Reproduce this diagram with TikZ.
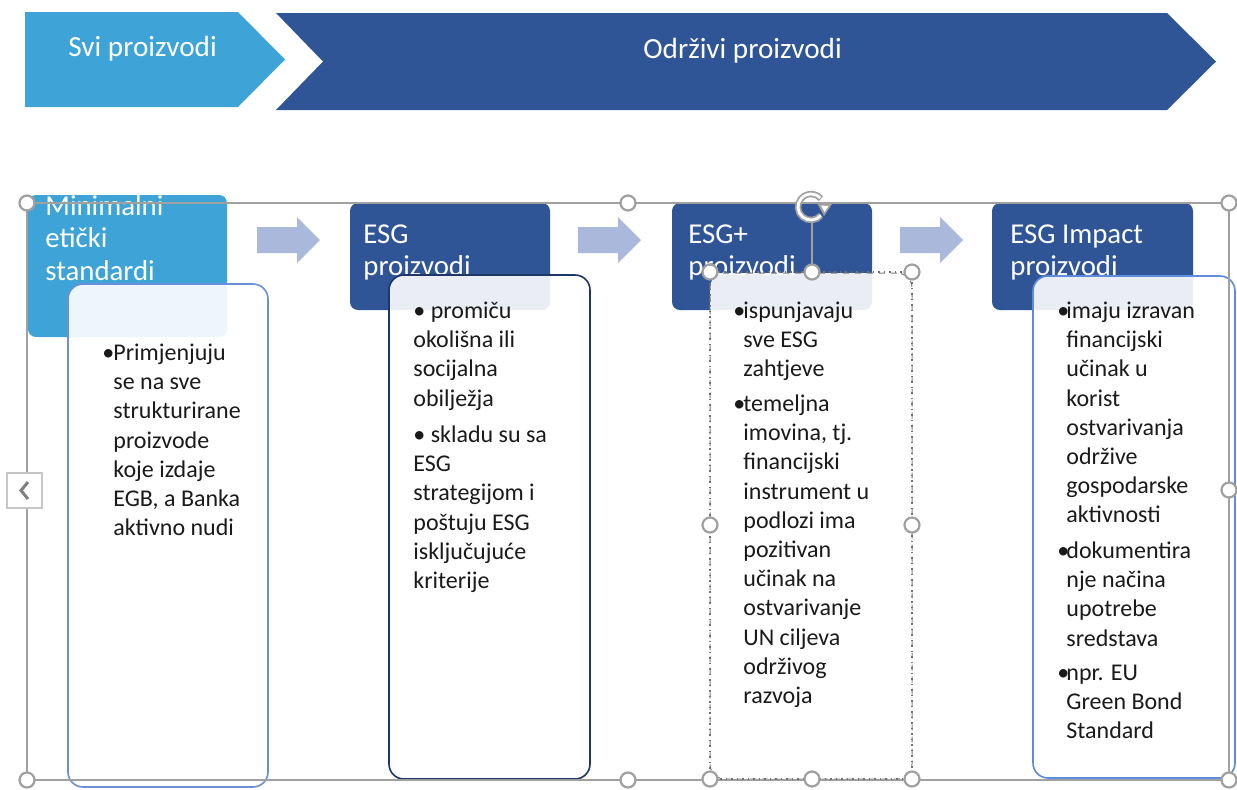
\documentclass[tikz,border=0pt]{standalone}
\usepackage{fontspec}
\setmainfont{Carlito}
\usetikzlibrary{fit,arrows.meta}
\definecolor{lblue}{HTML}{3EA4D7}
\definecolor{dblue}{HTML}{2F5597}
\definecolor{arw}{HTML}{AAB8DC}
\definecolor{bone}{HTML}{6A8FD8}
\definecolor{btwo}{HTML}{1F3766}
\definecolor{bfour}{HTML}{5E8BDB}
\definecolor{selg}{HTML}{A0A0A0}
\definecolor{txt}{HTML}{1A1A1A}
\begin{document}
\begin{tikzpicture}[x=0.5pt,y=-0.5pt,
 hbox/.style={inner sep=0pt, rounded corners=4pt, draw=none},
 bbox/.style={inner sep=0pt, rounded corners=7.5pt, fill=white, fill opacity=0.9, line width=0.8pt},
 toptxt/.style={text=white, font=\fontsize{14.6}{17}\selectfont, anchor=base west, inner sep=0pt},
 htxt/.style={text=white, font=\fontsize{14.4}{16.2}\selectfont, align=left, anchor=north west, inner sep=0pt},
 btxt/.style={text=txt, font=\fontsize{12}{14.6}\selectfont, align=left, anchor=north west, inner sep=0pt},
 handle/.style={circle, draw=selg, fill=white, line width=1.1pt, minimum size=7.5pt, inner sep=0pt},
 barrow/.style={fill=arw, draw=none}
]
\useasboundingbox (0,0) rectangle (1237,789);

% top chevrons
\fill[lblue] (25,12) -- (238,12) -- (285,59.5) -- (238,107) -- (25,107) -- cycle;
\fill[dblue] (276,13) -- (1167,13) -- (1216,61.5) -- (1167,110) -- (276,110) -- (323,61.5) -- cycle;
\node[toptxt] (svi) at (68,56) {Svi proizvodi};
\node[toptxt] (odr) at (643,58) {Održivi proizvodi};

% header boxes
\node[hbox, fill=lblue, fit={(28,195) (227,337)}] (h1) {};
\node[hbox, fill=dblue, fit={(350,203) (550,310)}] (h2) {};
\node[hbox, fill=dblue, fit={(672,203) (872,310)}] (h3) {};
\node[hbox, fill=dblue, fit={(992,203) (1193,310)}] (h4) {};

\node[htxt] (h1t) at (45,192.3) {\strut Minimalni\\etički\\standardi};
\node[htxt] (h2t) at (363,220.3) {\strut ESG\\proizvodi};
\node[htxt] (h3t) at (688,220.3) {\strut ESG+\\proizvodi};
\node[htxt] (h4t) at (1010,220.3) {\strut ESG Impact\\proizvodi};

% block arrows
\foreach \dx in {0,321,643}{
  \fill[barrow] (257+\dx,227) -- (297+\dx,227) -- (297+\dx,217) -- (320+\dx,240) -- (297+\dx,263) -- (297+\dx,253) -- (257+\dx,253) -- cycle;
}

% body boxes
\node[bbox, draw=bone, fit={(68,284) (268,787)}] (p1) {};
\node[bbox, draw=btwo, fit={(389,275) (590,779)}] (p2) {};
\node[bbox, draw=gray, dashed, line width=0.5pt, fit={(710,273) (912,779)}] (p3) {};
\node[bbox, draw=bfour, fit={(1033,276) (1235,778)}] (p4) {};

% body texts
\node[btxt] (b1a) at (102,339.6) {\strut •};
\node[btxt] (t1a) at (113,339.6) {\strut Primjenjuju\\se na sve\\strukturirane\\proizvode\\koje izdaje\\EGB, a Banka\\aktivno nudi};

\node[btxt] (t2a) at (413,297.6) {\strut • promiču\\okolišna ili\\socijalna\\obilježja};
\node[btxt] (t2b) at (413,421.6) {\strut • skladu su sa\\ESG\\strategijom i\\poštuju ESG\\isključujuće\\kriterije};

\node[btxt] (b3a) at (733,297.6) {\strut •};
\node[btxt] (t3a) at (743,297.6) {\strut ispunjavaju\\sve ESG\\zahtjeve};
\node[btxt] (b3b) at (733,390.6) {\strut •};
\node[btxt] (t3b) at (743,390.6) {\strut temeljna\\imovina, tj.\\financijski\\instrument u\\podlozi ima\\pozitivan\\učinak na\\ostvarivanje\\UN ciljeva\\održivog\\razvoja};

\node[btxt] (b4a) at (1057,297.6) {\strut •};
\node[btxt] (t4a) at (1066,297.6) {\strut imaju izravan\\financijski\\učinak u\\korist\\ostvarivanja\\održive\\gospodarske\\aktivnosti};
\node[btxt] (b4b) at (1057,537.6) {\strut •};
\node[btxt] (t4b) at (1066,537.6) {\strut dokumentira\\nje načina\\upotrebe\\sredstava};
\node[btxt] (b4c) at (1057,659.6) {\strut •};
\node[btxt] (t4c) at (1066,659.6) {\strut npr. EU\\Green Bond\\Standard};

% selection frame
\draw[selg, line width=0.75pt] (27,203) rectangle (1229,780);
\draw[selg!70!black, dotted, line width=0.75pt] (710,272) rectangle (912,779);

% left scroll button
\node[draw=gray!45, fill=white, line width=0.75pt, minimum width=17.5pt, minimum height=17.5pt, inner sep=0pt] (lb) at (24.5,490.5) {};
\draw[gray, line width=1.5pt] (28,482) -- (21,490.5) -- (28,499);

% rotation handle
\draw[selg, line width=0.75pt] (812,222) -- (812,272);
\draw[selg, line width=3.2pt] (811,207) ++(40:13) arc[start angle=40, end angle=320, radius=13];
\draw[white, line width=1.4pt] (811,207) ++(40:13) arc[start angle=40, end angle=315, radius=13];
\fill[selg] (824,216) -- (832,204) -- (817,203) -- cycle;
\fill[white] (824.5,212) -- (828.5,206) -- (821,205.5) -- cycle;

% handles
\foreach \n/\p in {fa/{(27,203)}, fb/{(628,203)}, fc/{(1229,203)}, fd/{(1229,490)}, fe/{(27,780)}, ff/{(628,780)}, fg/{(1229,780)},
  sa/{(710,272)}, sb/{(812,272)}, sc/{(912,272)}, sd/{(710,525)}, se/{(912,525)}, sf/{(710,779)}, sg/{(812,779)}, sh/{(912,779)}}{
  \node[handle] (\n) at \p {};
}
\end{tikzpicture}
\end{document}
